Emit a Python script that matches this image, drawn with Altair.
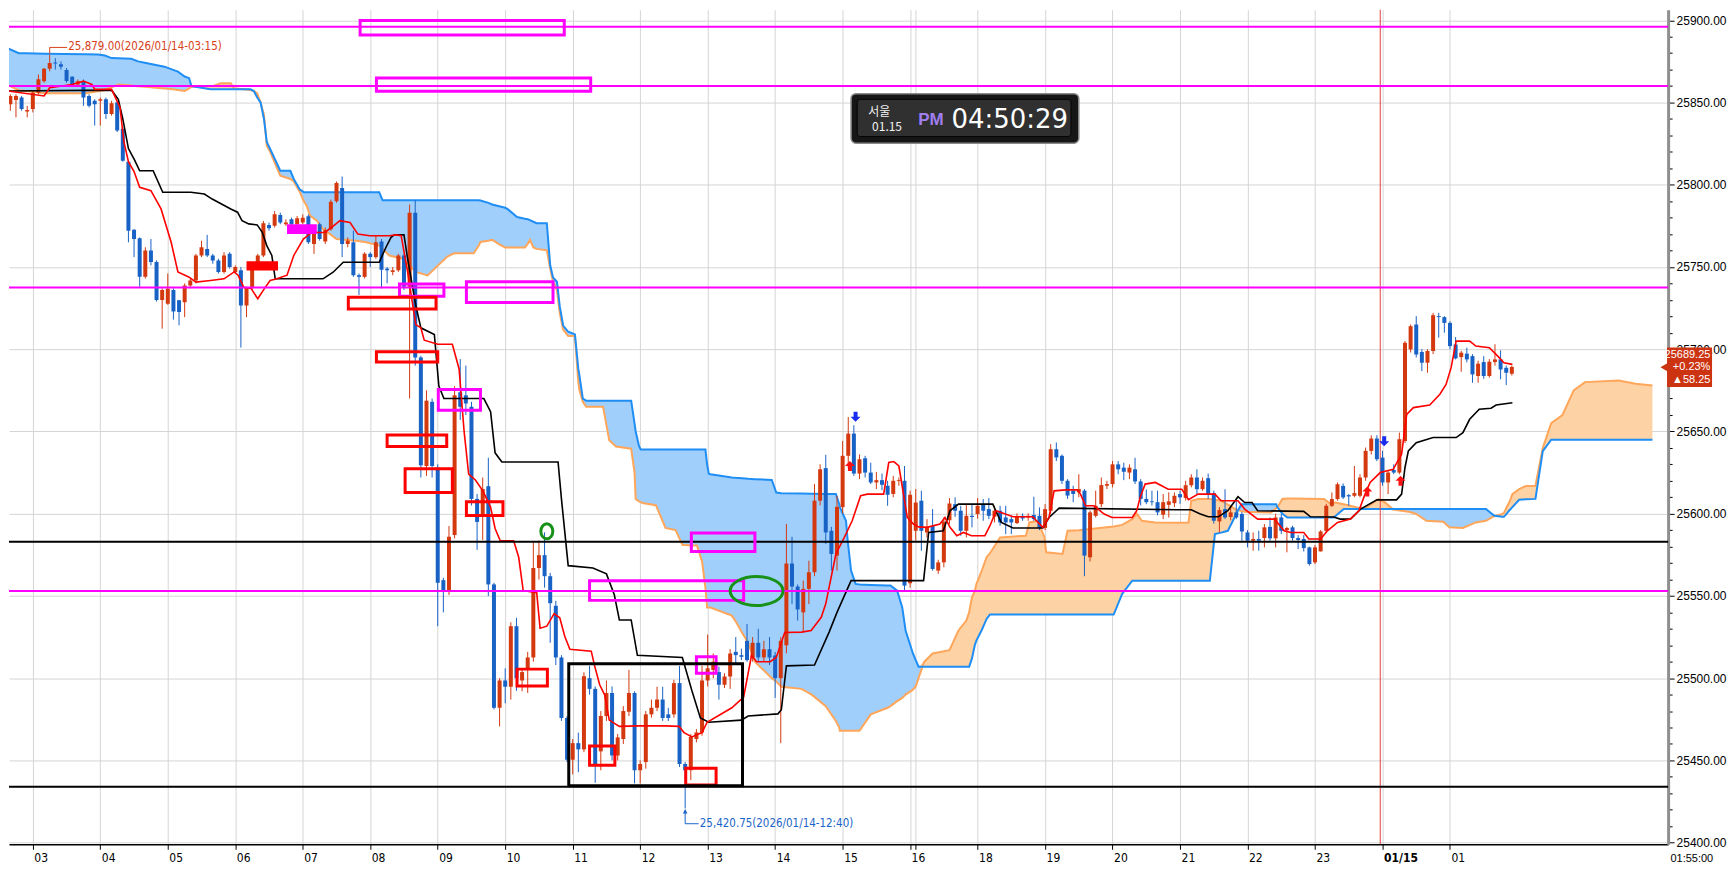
import altair as alt
import pandas as pd

# ---------------- data ----------------
first_bar = -4  # bar index 0 = 03:00, 5-minute bars

opens = [
    25849.0, 25851.6, 25853.0, 25844.5, 25846.0, 25856.0, 25863.0, 25870.6, 25874.3, 25873.3,
    25869.8, 25865.6, 25861, 25863, 25854, 25851, 25851, 25852, 25843, 25850,
    25834, 25814, 25772.7, 25767.5, 25744, 25760, 25753, 25730, 25727.6, 25736,
    25729.7, 25728.6, 25738.8, 25741.8, 25757, 25761, 25757, 25754, 25747, 25758,
    25747, 25748, 25726.6, 25737.7, 25752, 25757, 25775.6, 25775, 25781.6, 25776,
    25779, 25776, 25777, 25780.8, 25764, 25776, 25765.5, 25773, 25790, 25798,
    25764, 25765, 25745, 25744, 25758, 25756, 25765.5, 25749, 25747, 25748,
    25757, 25738, 25783, 25695, 25629, 25668, 25628, 25559.6, 25553, 25587,
    25673.8, 25672, 25665, 25609, 25599, 25616.7, 25557, 25482, 25498.6, 25494.8,
    25531.6, 25498.6, 25505, 25512.6, 25567, 25574.8, 25562, 25544, 25512.6, 25475.8,
    25450.4, 25460.5, 25456.7, 25500, 25493.5, 25455.5, 25477, 25491, 25453, 25463,
    25479.6, 25491, 25444, 25449, 25478, 25482, 25487, 25478, 25478, 25497,
    25447.8, 25444, 25463, 25467, 25498.6, 25505, 25503.7, 25496, 25501, 25516,
    25514, 25522.7, 25512.6, 25521.5, 25512.6, 25517.6, 25513.8, 25500, 25520, 25569.7,
    25555.7, 25540, 25554.3, 25564.4, 25607.9, 25627.7, 25589.6, 25574.5, 25604, 25635.2,
    25648.7, 25624.4, 25633.7, 25625, 25619, 25620.4, 25617, 25612, 25620, 25620,
    25557.7, 25589.6, 25607.9, 25588.6, 25592.7, 25565.4, 25570.4, 25596, 25605.8, 25601.8,
    25589.6, 25598.7, 25599.8, 25605.8, 25602.8, 25598.2, 25601.8, 25597.7, 25596.7, 25594.3,
    25598.7, 25597.7, 25599.2, 25598.7, 25591.3, 25601.8, 25639.2, 25635.2, 25620, 25614,
    25613, 25614, 25573.5, 25598.7, 25605.8, 25617, 25618, 25630, 25628, 25625,
    25627, 25619.6, 25609, 25607.5, 25607, 25599.4, 25605.4, 25606.4, 25611.9, 25609.5,
    25617.3, 25622, 25614.9, 25621.6, 25612.5, 25595.3, 25602.8, 25598, 25600.8, 25599.8,
    25588.6, 25583.6, 25584.6, 25585.2, 25592, 25585, 25597.7, 25590, 25591.7, 25585.2,
    25584.6, 25579.5, 25570.4, 25577.1, 25589.6, 25604.8, 25608.9, 25616.9, 25611.3, 25610.9,
    25610.9, 25622, 25638.2, 25645.7, 25634.1, 25619, 25626.6, 25625, 25644.2, 25699.9,
    25715, 25698.3, 25691.8, 25698.9, 25720.1, 25719.5, 25716, 25702.9, 25695.2, 25697.3,
    25695.8, 25683.7, 25692.2, 25683.7, 25692.2, 25693.8, 25688.7, 25685.1,
]
highs = [
    25855, 25855, 25854, 25848, 25857, 25867, 25871, 25879, 25877, 25875,
    25871, 25866, 25864, 25864, 25855, 25852, 25853, 25853, 25851, 25851,
    25835, 25815, 25773, 25768, 25762, 25767, 25754, 25737, 25746, 25737,
    25730, 25740, 25743, 25758, 25766, 25769.5, 25758, 25755, 25759, 25759,
    25751, 25750, 25738, 25753, 25758, 25778, 25777, 25784, 25783, 25779,
    25780, 25781, 25782, 25782, 25772, 25777, 25774, 25791, 25802, 25805,
    25768, 25772, 25746, 25759, 25759, 25769, 25767, 25750, 25750, 25758,
    25758, 25788, 25790.5, 25696, 25675, 25670, 25630, 25561, 25592.5, 25677.6,
    25694, 25690, 25668, 25612, 25622, 25634, 25558, 25500, 25506, 25534,
    25536.7, 25505, 25516, 25582.4, 25583.7, 25588.7, 25564, 25547, 25514, 25477,
    25463, 25466.9, 25503.6, 25507.5, 25495, 25480, 25498.6, 25495, 25466, 25483,
    25505, 25492, 25450, 25480, 25487, 25494.8, 25494.8, 25482, 25499, 25507.5,
    25449, 25466, 25469, 25507.5, 25526.5, 25515, 25507, 25503, 25517.6, 25525,
    25518, 25533, 25525, 25530, 25522.7, 25525, 25516, 25525, 25593.8, 25586,
    25557, 25559.3, 25571.4, 25618, 25630, 25635.8, 25592, 25610.9, 25644.2, 25658.8,
    25653.8, 25636, 25635.2, 25631, 25625.4, 25624.4, 25620, 25623, 25622, 25629,
    25614, 25615, 25614, 25596.7, 25602.8, 25572, 25597.7, 25609.5, 25609.9, 25604.8,
    25605.8, 25605.8, 25609.5, 25608.9, 25609.5, 25604.8, 25604.8, 25604.8, 25598.8, 25600.2,
    25600.2, 25600.2, 25610.3, 25603.8, 25605.8, 25642.3, 25643.3, 25636, 25621, 25617,
    25624, 25615, 25602, 25614, 25622, 25620, 25632.1, 25632, 25631, 25630,
    25634, 25621, 25614.7, 25614, 25614, 25612, 25613, 25612.9, 25614, 25620,
    25624, 25627, 25622, 25624.4, 25614, 25604, 25614.9, 25604.8, 25608.9, 25601,
    25590, 25588.6, 25589.6, 25593.7, 25597.7, 25600, 25599.8, 25592, 25592.7, 25587,
    25587, 25580, 25581, 25590, 25606, 25612.9, 25619, 25618.4, 25611.9, 25629,
    25624, 25640.2, 25647.7, 25647.7, 25638.2, 25626, 25630, 25649.3, 25705, 25715,
    25720.1, 25700, 25700, 25722.1, 25722.1, 25720.1, 25717, 25707.4, 25699, 25700.9,
    25697, 25693, 25695.8, 25694, 25703, 25699.3, 25690, 25690,
]
lows = [
    25845, 25841, 25845, 25841, 25844, 25855, 25862, 25869, 25870, 25870,
    25862, 25860, 25860, 25848, 25847, 25836, 25836, 25840, 25842, 25832,
    25814, 25765, 25756, 25738, 25743, 25751, 25729, 25712.5, 25727, 25718,
    25714.5, 25719.5, 25737, 25740, 25756, 25756, 25752, 25746, 25746, 25749,
    25746, 25701, 25719.5, 25736, 25751, 25756, 25772, 25774, 25776, 25775,
    25775, 25775, 25776, 25764, 25758, 25766, 25764, 25772, 25789, 25756,
    25762, 25744, 25733, 25743, 25750, 25755, 25737, 25740, 25745, 25747,
    25736, 25670, 25690, 25622, 25623, 25622, 25531.6, 25540, 25550.6, 25585,
    25657, 25660, 25605, 25578, 25584, 25550, 25481, 25470.7, 25484.7, 25487,
    25492.3, 25492, 25491, 25510, 25560, 25555, 25521.5, 25508, 25474, 25449,
    25441.5, 25442.8, 25455, 25490, 25436.4, 25444, 25474, 25450, 25450, 25460,
    25477, 25436, 25436, 25445, 25476, 25480, 25474, 25474, 25476, 25446,
    25420.75, 25438, 25461, 25465, 25495, 25500, 25487, 25494, 25493.5, 25509,
    25511, 25510, 25510, 25510, 25510, 25508, 25488, 25460.5, 25515, 25545,
    25535, 25528, 25545, 25562, 25605, 25581.6, 25565.4, 25565.4, 25600, 25628,
    25623, 25621, 25622, 25618, 25615, 25614.3, 25604.8, 25610, 25617, 25553.3,
    25555, 25583.6, 25577.5, 25585.6, 25565.4, 25563.4, 25567.4, 25593.7, 25598, 25586.6,
    25585.6, 25591.7, 25597, 25595.7, 25596.7, 25594.7, 25592.7, 25587.6, 25587.6, 25593.7,
    25595.7, 25595.7, 25595.7, 25590, 25590, 25600, 25632, 25618, 25609, 25607,
    25610, 25562, 25571, 25597.7, 25604, 25615, 25616, 25624, 25620.4, 25621,
    25618, 25605, 25605.8, 25605, 25599, 25596.7, 25597.7, 25604, 25606, 25608,
    25616, 25612, 25613.9, 25609, 25594, 25588.6, 25596.7, 25596, 25596.7, 25583.6,
    25579.5, 25577.5, 25577.5, 25579.5, 25583.6, 25579.5, 25587.6, 25576.5, 25583.6, 25578.5,
    25577, 25568.4, 25569.4, 25577, 25588.6, 25604, 25608, 25608.9, 25604.8, 25610,
    25609.9, 25620, 25636, 25632, 25617, 25611.9, 25624, 25624, 25643, 25698,
    25695, 25686.7, 25685.7, 25697, 25707, 25710, 25700, 25693.8, 25686.3, 25692,
    25679.6, 25679.6, 25682, 25682.7, 25690, 25681.7, 25678.2, 25684,
]
closes = [
    25854, 25854, 25846, 25845.5, 25856, 25864.2, 25870.6, 25874, 25873.7, 25871.8,
    25863.1, 25861.1, 25863, 25853, 25848, 25849, 25852, 25843, 25849.6, 25833,
    25814.6, 25772, 25767, 25744, 25760, 25753, 25730, 25736, 25736.7, 25723,
    25722.6, 25738.8, 25741.8, 25757, 25762, 25757, 25754, 25747, 25757, 25750,
    25750, 25726.6, 25737.7, 25752, 25757, 25776.6, 25773.5, 25782, 25777, 25777,
    25776, 25779.6, 25780, 25765, 25771, 25767, 25772.5, 25789.7, 25801, 25764,
    25766, 25745, 25744, 25758, 25756, 25765, 25748.3, 25748, 25748, 25757,
    25738, 25783, 25695, 25629.4, 25668.7, 25629, 25558, 25553, 25586, 25672,
    25665, 25667, 25609, 25595, 25615, 25557, 25482, 25498.6, 25494.8, 25531.6,
    25500, 25503.7, 25512.6, 25567, 25574.8, 25562, 25545.6, 25512.6, 25475.8, 25450.4,
    25460.5, 25456.7, 25501.2, 25493.5, 25447.8, 25477, 25491, 25453, 25464, 25480,
    25491, 25444, 25447.8, 25478, 25482, 25487, 25475.8, 25475.8, 25497, 25447.8,
    25444, 25464.3, 25467, 25498.6, 25506, 25510, 25496, 25501, 25515, 25514,
    25513, 25511, 25521.5, 25512.6, 25517.6, 25512.6, 25500, 25522.7, 25569.7, 25555.7,
    25541.8, 25554.3, 25564.4, 25607.9, 25627, 25588.6, 25575.5, 25604.2, 25635.2, 25648.7,
    25624.4, 25633.1, 25625, 25619, 25620.4, 25617.6, 25611.5, 25620, 25620.5, 25556.3,
    25611.5, 25606.8, 25589.6, 25592, 25566.4, 25570.4, 25595.1, 25606.2, 25601.8, 25589.6,
    25598.7, 25598, 25604.8, 25601.8, 25598.7, 25601.8, 25594.7, 25594.7, 25594.7, 25598.1,
    25597.1, 25598.7, 25596.7, 25591.3, 25602.8, 25639.2, 25634.2, 25620, 25611, 25612,
    25615, 25574.5, 25600.8, 25604.8, 25617.4, 25618, 25630, 25627, 25625.5, 25628,
    25619.6, 25609, 25607, 25607, 25600.8, 25607, 25607.5, 25610.9, 25609.9, 25617.3,
    25622, 25614.9, 25620, 25611.9, 25595.7, 25602.2, 25597.7, 25600.8, 25597.7, 25589.2,
    25583.6, 25584.6, 25583.6, 25591.7, 25585, 25597.7, 25589.6, 25591.3, 25585.2, 25584,
    25579.1, 25569.4, 25579.5, 25589.2, 25604.8, 25608.9, 25617.9, 25609.9, 25610.5, 25612.5,
    25622, 25638.2, 25645.7, 25633.1, 25619, 25625, 25625, 25645.3, 25703.9, 25714,
    25696.8, 25691.8, 25698.9, 25720.7, 25719.5, 25716, 25701.9, 25694.4, 25697.9, 25693.8,
    25684.7, 25691.2, 25683.7, 25692.4, 25693.8, 25687.7, 25685.7, 25689.25,
]

# conversion line (red) and base line (black): break points
tenkan_x = [
    -4.5, 2, 3, 7, 9, 10.5, 11, 14, 15.5, 16.2,
    17, 18, 19, 21, 22.8, 24.6, 25.8, 27.8, 29, 31.6,
    34, 35.8, 36.5, 37.5, 38.8, 40, 41.2, 42.2, 43.4, 45.2,
    46.4, 48.1, 49.6, 51.9, 53.1, 54.6, 56.4, 57.8, 59.9, 63.4,
    64.5, 65.5, 66.6, 68.1, 69, 69.6, 72, 74.6, 75.8, 76.7,
    77.5, 78.7, 80, 81.4, 82.2, 83.1, 85.5, 86.4, 87.2, 89.6,
    90.2, 91.4, 92.7, 93.7, 94.6, 95.5, 99.3, 99.9, 100.8, 101.7,
    102.5, 104.3, 107.5, 112.5, 114.9, 115.8, 117.2, 119, 119.9, 124.3,
    126.4, 127.8, 128.7, 131.1, 132.2, 133.7, 136.7, 138.4, 140.2, 141,
    142.8, 144.3, 145.7, 147.2, 148.4, 151.3, 152.2, 153.1, 154, 155.5,
    156.6, 157.5, 159, 161.3, 162.2, 163.1, 164.3, 165.5, 166.9, 169.3,
    170.2, 171.3, 174.3, 177.8, 179.6, 180.7, 181.6, 183.7, 185.7, 186.3,
    187.2, 188.7, 190.5, 191.9, 195.5, 196.3, 196.9, 197.8, 199.6, 201.9,
    204.3, 205.5, 207.2, 210.2, 211.3, 214.3, 215.5, 217.8, 220.8, 221.3,
    222.5, 223.7, 226, 226.9, 229, 230.2, 232, 234.3, 235.8, 236.9,
    237.8, 239.6, 241.9, 243.4, 244.3, 245.5, 248.4, 250.2, 251.3, 252.2,
    253.1, 255.5, 256.6, 259, 260.5, 261.6, 263.1,
]
tenkan_y = [
    25857, 25854, 25859, 25861, 25863, 25861, 25858, 25858, 25847, 25826,
    25814, 25808, 25798.4, 25796.4, 25785.3, 25765, 25747, 25743.8, 25740.8, 25741.8,
    25742.8, 25747, 25745, 25737.7, 25737, 25730.7, 25737, 25741.8, 25742.8, 25745,
    25757, 25767, 25771, 25771, 25774, 25778.2, 25777, 25770, 25769, 25769,
    25769.5, 25769, 25748, 25715, 25713, 25705.5, 25703, 25703, 25688, 25649.7,
    25624, 25620.5, 25614, 25604, 25591, 25583.7, 25583.5, 25573.5, 25553.2, 25552,
    25530.4, 25531.6, 25539.2, 25536.7, 25525.3, 25517.6, 25516.4, 25507.5, 25496, 25489.7,
    25474.5, 25470.7, 25471, 25471, 25470.7, 25466.9, 25464.3, 25466.9, 25473.2, 25482,
    25488.5, 25513.9, 25510, 25510, 25512.6, 25527.8, 25528, 25529, 25537, 25545.2,
    25575.5, 25585.6, 25595.7, 25610.9, 25611.9, 25611.9, 25631.1, 25631.7, 25629, 25597.7,
    25593.7, 25592, 25591.7, 25593.7, 25597.7, 25591.7, 25586.6, 25588.6, 25586.6, 25586.6,
    25592.7, 25601.8, 25598.1, 25598.1, 25591.7, 25597.7, 25613.9, 25614.5, 25614.5, 25611.9,
    25604.8, 25604.8, 25599.8, 25597.7, 25597.7, 25601.8, 25609.9, 25618, 25619, 25614.9,
    25614.9, 25608.5, 25611.9, 25611.9, 25607.9, 25607.9, 25602.8, 25596.7, 25596.7, 25594.7,
    25589.6, 25588.6, 25588.6, 25584.6, 25584.6, 25589.6, 25594.7, 25596.7, 25601.8, 25611.9,
    25619, 25625, 25627, 25636.2, 25660.4, 25664.5, 25666.1, 25672.6, 25678.6, 25688.8,
    25704.9, 25704.9, 25701.9, 25700.9, 25695.8, 25691.8, 25690.8,
]
kijun_x = [
    -4.5, 14, 15.2, 16, 17, 18.1, 19, 21.4, 23.1, 28.1,
    30.5, 31.9, 35.2, 36.4, 37.2, 38.4, 39.9, 40.8, 41.6, 42.5,
    43.1, 51.6, 53.4, 55.2, 61.6, 62.8, 63.7, 64.3, 66, 66.6,
    68.1, 69, 71.4, 72.2, 73.1, 80.2, 81.4, 82.2, 83.4, 93.4,
    94, 95.2, 99.6, 102, 103.4, 104.3, 106.4, 107.5, 115.5, 117.2,
    118.7, 120.2, 126, 127.2, 132.5, 133.1, 134, 139, 141.6, 143,
    145.5, 158.4, 159.3, 161.9, 163.1, 164.6, 170.7, 172.2, 174.3, 179.6,
    180.7, 182.5, 203.7, 206, 207.5, 209, 210.8, 212.5, 214.3, 215.5,
    216.8, 217.8, 226, 227.2, 231.3, 232.5, 234.3, 236.1, 239, 242.5,
    243.4, 244, 244.6, 246, 249, 253.1, 254.3, 255.5, 257.2, 259.3,
    260.2, 263.1,
]
kijun_y = [
    25857, 25857.5, 25852, 25840, 25822, 25815, 25808.5, 25808.5, 25795.4, 25795.4,
    25794.4, 25791.3, 25785.3, 25783.3, 25778.2, 25776.2, 25775.6, 25771.1, 25763, 25757,
    25742.8, 25742.8, 25746.8, 25752.9, 25752.9, 25762, 25768, 25769.5, 25769.5, 25756,
    25726.6, 25713, 25709, 25677.6, 25670, 25670, 25662, 25637, 25631.4, 25631.4,
    25609, 25568.4, 25567, 25563.4, 25550.7, 25535.4, 25535.4, 25513.9, 25512.6, 25492.3,
    25475.8, 25473.2, 25474.5, 25477, 25478.3, 25480.8, 25507.5, 25508, 25528, 25540,
    25559.3, 25559.3, 25588.6, 25589.6, 25601.8, 25605.8, 25605.8, 25594.7, 25591.3, 25591.3,
    25597.7, 25603.4, 25602.4, 25602.4, 25600, 25598.1, 25598.1, 25601.8, 25610.3, 25606.8,
    25606.8, 25601.8, 25601.4, 25598.1, 25598, 25596.7, 25596.7, 25602.8, 25608.4, 25608.4,
    25611.9, 25628.1, 25638.2, 25643.2, 25646.3, 25646.3, 25649.3, 25657.4, 25663.5, 25664.1,
    25666.1, 25667.5,
]

# leading spans (cloud): shared break points
cloud_x = [
    -4.5, -2.5, -1.3, 2.2, 9.3, 11.6, 12.8, 14, 15.2, 17.5,
    18.7, 19.9, 23.4, 24.6, 25.8, 27, 27.8, 28.2, 30.5, 31.6,
    32.2, 33.4, 35.2, 35.8, 38.7, 39.3, 39.9, 40.5, 41.1, 41.6,
    42.2, 44, 45.8, 46.4, 47.5, 47.8, 48.2, 48.7, 49.3, 50.5,
    51.6, 52.8, 54, 57.5, 59.3, 61.6, 62.2, 63.4, 65.8, 68.1,
    70.2, 73.7, 74.9, 78.4, 79.3, 79.6, 81, 81.7, 83.1, 84,
    84.5, 86.1, 87.5, 88, 88.4, 89, 89.6, 91.4, 92, 92.5,
    93.2, 93.7, 94.3, 95.2, 96.4, 97, 97.2, 97.8, 98.4, 101.4,
    102.5, 103.7, 106.4, 107, 107.2, 107.8, 108.1, 108.4, 110.8, 112.5,
    114.3, 115.5, 117, 118.1, 119, 119.6, 119.9, 120.2, 120.5, 124.3,
    124.9, 126.1, 127.2, 128.4, 131.4, 132.2, 133.1, 136.7, 138.5, 141,
    142.8, 143.4, 143.5, 144.6, 144.9, 145.5, 146.3, 147, 149, 152,
    152.5, 153.7, 154.6, 155.2, 156.5, 157, 157.5, 158.5, 160, 163,
    164.6, 166, 166.5, 167, 167.5, 167.8, 168.7, 169.6, 170.2, 172,
    176.6, 177.2, 178.7, 179.9, 180.2, 183.1, 184, 186, 192.2, 193.7,
    195.5, 196.3, 197.2, 199.6, 203.7, 205.5, 206, 207.2, 209.3, 210.2,
    211.3, 212.5, 214, 214.3, 214.9, 215.5, 220.2, 221.1, 221.3, 222.2,
    223.1, 223.7, 229.6, 230.8, 231.3, 231.6, 233.1, 235.5, 237, 238.4,
    239.3, 240.5, 241.9, 244.9, 246, 247.8, 250.8, 251.9, 254.3, 256.6,
    258.4, 259.6, 259.9, 261.3, 261.6, 262.2, 262.5, 263.1, 264.3, 265.5,
    267.2, 268.5, 270, 272, 274, 276, 282, 285, 288,
]
span_blue = [
    25883, 25880, 25879.9, 25879.7, 25879.3, 25879.2, 25878.6, 25877, 25876.9, 25876.6,
    25875, 25874.2, 25871.8, 25870.3, 25868.8, 25865.8, 25864.8, 25860, 25858.7, 25858,
    25858, 25858, 25858, 25858, 25858, 25857, 25853, 25850, 25840, 25826,
    25821.7, 25808.5, 25808.5, 25803.5, 25797, 25796.4, 25795.4, 25795.4, 25795.4, 25795.4,
    25795.4, 25795.4, 25795.4, 25795.4, 25795.4, 25795.4, 25790.5, 25790.5, 25790.5, 25790.5,
    25790.5, 25790.5, 25790.5, 25790.5, 25790.6, 25790.4, 25789, 25788, 25786.8, 25786,
    25785, 25780.4, 25779.3, 25779, 25778.5, 25777.5, 25776.6, 25776.6, 25751, 25743.6,
    25741, 25726, 25714.4, 25710.6, 25709, 25688, 25684, 25670, 25668.7, 25668.7,
    25668.7, 25668.7, 25668.7, 25654.8, 25650, 25641, 25639, 25639, 25639, 25639,
    25639, 25639, 25639, 25639, 25639, 25639, 25630, 25624.3, 25624, 25622,
    25621.8, 25621.5, 25621.2, 25621, 25620.5, 25612.9, 25612.5, 25612.3, 25612.2, 25612,
    25612, 25605.8, 25604, 25595.7, 25583.6, 25565.4, 25557.3, 25557, 25556.7, 25556.4,
    25556.3, 25553.2, 25543, 25529, 25515, 25511, 25507, 25507, 25507, 25507,
    25507, 25507, 25507, 25512, 25520, 25523, 25529, 25536, 25538.7, 25538.7,
    25538.7, 25538.7, 25538.7, 25538.7, 25538.7, 25538.7, 25538.7, 25538.7, 25538.7, 25551.2,
    25559.3, 25559.3, 25559.3, 25559.3, 25559.3, 25559.3, 25559.3, 25559.3, 25559.3, 25587.6,
    25588.5, 25589.6, 25599.8, 25602, 25605.8, 25605.8, 25605.8, 25605.8, 25604, 25600,
    25597.7, 25597.7, 25597.7, 25597.7, 25597.7, 25598.5, 25602.8, 25602.8, 25602.8, 25602.8,
    25602.8, 25602.8, 25602.8, 25602.8, 25602.8, 25602.8, 25602.8, 25602.8, 25602.8, 25602.8,
    25602.8, 25599.5, 25598.7, 25598.2, 25598.1, 25600.5, 25601.8, 25604, 25608.5, 25608.8,
    25609, 25638, 25645, 25645, 25645, 25645, 25645, 25645, 25645,
]
span_orange = [
    25860.7, 25857.5, 25857, 25855.6, 25855.6, 25856.9, 25857.6, 25859.3, 25861, 25860.3,
    25859.9, 25859.6, 25858.5, 25858.2, 25857.6, 25857, 25858.6, 25859.6, 25859.9, 25860,
    25860.2, 25861.7, 25861.7, 25858.6, 25857.6, 25857, 25855.6, 25850, 25842.5, 25823.7,
    25820, 25805.5, 25803.5, 25802, 25795.4, 25793, 25790, 25787.3, 25781.2, 25778.2,
    25773.1, 25770.1, 25767, 25766, 25765, 25763, 25761, 25757, 25755, 25747,
    25744.9, 25756.3, 25758.3, 25758.3, 25763, 25765.2, 25766, 25766.5, 25763.5, 25761.9,
    25761.9, 25761.9, 25761.9, 25764, 25766.5, 25761.9, 25761, 25760.1, 25749, 25741,
    25736, 25722, 25712, 25708, 25708, 25680, 25675, 25668, 25665, 25665,
    25644.6, 25640.8, 25639.5, 25625, 25609, 25607.5, 25607, 25606.5, 25605.2, 25591.3,
    25590, 25581.1, 25580.6, 25580.6, 25571, 25555, 25543, 25543, 25543, 25538,
    25535, 25527.8, 25521.5, 25510, 25500, 25498, 25494.8, 25493.5, 25490, 25483,
    25474, 25470, 25468, 25468, 25468, 25468, 25468, 25468, 25478, 25482,
    25483, 25486, 25488, 25490, 25493, 25495, 25500, 25510, 25515, 25517,
    25529, 25535, 25540, 25549.2, 25553, 25557.3, 25565, 25573.5, 25576, 25585.6,
    25586.6, 25594.7, 25595.7, 25585.6, 25576.5, 25575.5, 25589.6, 25590, 25592.2, 25593.2,
    25596.7, 25600.2, 25595.7, 25594.7, 25594.5, 25594.7, 25607.9, 25608.9, 25608.9, 25608.5,
    25607.9, 25605.5, 25602.5, 25602.2, 25601.6, 25601.2, 25600.8, 25603.4, 25603.8, 25608.9,
    25609.2, 25609.3, 25608.9, 25605.8, 25606.5, 25606.8, 25605.8, 25603.8, 25603.5, 25606.8,
    25608.9, 25606.8, 25602.5, 25601, 25599.8, 25595.7, 25595.1, 25591.7, 25591.3, 25594.7,
    25595.7, 25598.1, 25598.5, 25599.8, 25600.5, 25604.8, 25606.5, 25611.9, 25614.9, 25616.9,
    25617, 25640, 25655, 25660, 25675, 25680, 25681, 25679, 25678,
]

# axis ticks / labels
hour_ticks = [0, 12, 24, 36, 48, 60, 72, 84, 96, 108, 120, 132, 144, 156, 157,
              168, 180, 192, 204, 216, 228, 240, 252]
hour_labels = ["03", "04", "05", "06", "07", "08", "09", "10", "11", "12", "13", "14",
               "15", "16", "", "18", "19", "20", "21", "22", "23", "01/15", "01"]
y_ticks = list(range(25400, 25910, 10))

# drawn horizontal levels
magenta_levels = [25896, 25860, 25737.5, 25553]
black_levels = [25583, 25434]

# hand-drawn boxes (bar index / price)
mag_x1 = [58.2, 61.1, 65.2, 77.1, 72.1, 117.1, 99.0, 118.0]
mag_x2 = [94.5, 99.2, 73.1, 92.5, 79.6, 128.4, 126.4, 121.5]
mag_y1 = [25899.8, 25864.9, 25739.7, 25741.0, 25675.5, 25588.2, 25559.3, 25513.0]
mag_y2 = [25891.1, 25856.8, 25732.2, 25728.4, 25662.9, 25577.0, 25547.3, 25503.0]
red_x1 = [56.1, 61.1, 63.0, 66.2, 77.1, 86.1, 99.0, 116.1]
red_x2 = [71.7, 72.0, 73.6, 74.6, 83.6, 91.5, 103.5, 121.5]
red_y1 = [25731.6, 25698.5, 25647.9, 25627.3, 25607.3, 25505.5, 25458.7, 25445.3]
red_y2 = [25724.5, 25692.2, 25640.8, 25612.9, 25598.9, 25495.3, 25447.1, 25435.1]
solid_x1 = [45.2, 38.0]
solid_x2 = [50.5, 43.6]
solid_y1 = [25776.0, 25753.5]
solid_y2 = [25770.0, 25747.8]
solid_c = ["#ff00ff", "#ff0000"]
box_x1, box_x2, box_y1, box_y2 = [95.3], [126.2], [25508.7], [25434.6]

# signal arrows
down_arrow_x = [146.3, 240.3]
down_arrow_y = [25659.0, 25644.0]
up_arrow_x = [145.3, 237.3, 243.2]
up_arrow_y = [25629.0, 25613.5, 25620.0]

# ---------------- styling ----------------
RED = "#d4380f"
BLUE = "#1862c6"
LABEL_FONT = "Liberation Sans Narrow, DejaVu Sans Condensed, Liberation Sans, sans-serif"

xs = alt.Scale(domain=[-3.35, 289.9], nice=False, zero=False)
ys = alt.Scale(domain=[25399, 25906.4], nice=False, zero=False)

label_expr = ("[" + ",".join("'%s'" % l for l in hour_labels) + "][indexof(["
              + ",".join(str(t) for t in hour_ticks) + "], datum.value)]")

x_axis = alt.Axis(
    values=hour_ticks, labelExpr=label_expr, grid=True, gridColor="#d5d5d5", gridWidth=1,
    domainColor="#000000", domainWidth=1.5, tickColor="#000000", tickSize=5,
    labelAlign="left", labelOffset=1, labelPadding=3, labelFont=LABEL_FONT,
    labelFontSize=12, labelColor="#000000", labelOverlap=False, zindex=0,
    labelFontWeight={"condition": {"test": "datum.value === 240", "value": "bold"}, "value": "normal"},
)
y_axis = alt.Axis(
    orient="right", values=y_ticks,
    labelExpr="datum.value % 50 === 0 ? format(datum.value, '.2f') : ''",
    grid=True, gridColor="#d5d5d5", gridWidth=1,
    gridOpacity={"condition": {"test": "datum.value % 50 === 0", "value": 1}, "value": 0},
    tickSize={"condition": {"test": "datum.value % 50 === 0", "value": 6}, "value": 4},
    tickColor="#000000", domainColor="#8f8f8f", domainWidth=3,
    labelFont="Liberation Sans, sans-serif", labelFontSize=12, labelColor="#000000",
    labelPadding=2, labelOverlap=False, zindex=0,
)


def X(f):
    return alt.X(f + ":Q", scale=xs, axis=x_axis, title=None)


def Y(f):
    return alt.Y(f + ":Q", scale=ys, axis=y_axis, title=None)


# ---------------- tables ----------------
n = min(len(opens), len(highs), len(lows), len(closes))
bars = pd.DataFrame({
    "x": list(range(first_bar, first_bar + n)),
    "open": opens[:n], "high": highs[:n], "low": lows[:n], "close": closes[:n],
})
bars["dir"] = ["up" if c >= o else "down" for o, c in zip(bars["open"], bars["close"])]

nc = min(len(cloud_x), len(span_blue), len(span_orange))
cloud = pd.DataFrame({"x": cloud_x[:nc], "b": span_blue[:nc], "o": span_orange[:nc]})
nt = min(len(tenkan_x), len(tenkan_y))
tenkan = pd.DataFrame({"x": tenkan_x[:nt], "y": tenkan_y[:nt]})
nk = min(len(kijun_x), len(kijun_y))
kijun = pd.DataFrame({"x": kijun_x[:nk], "y": kijun_y[:nk]})

dir_color = alt.Color("dir:N", scale=alt.Scale(domain=["up", "down"], range=[RED, BLUE]), legend=None)

layers = []

# cloud fills
layers.append(
    alt.Chart(cloud).transform_calculate(top="max(datum.b, datum.o)")
    .mark_area(color="#a0cffb", orient="vertical", clip=True)
    .encode(x=X("x"), y=Y("o"), y2=alt.Y2("top"))
)
layers.append(
    alt.Chart(cloud).transform_calculate(top="max(datum.b, datum.o)")
    .mark_area(color="#fdd2a5", orient="vertical", clip=True)
    .encode(x=X("x"), y=Y("b"), y2=alt.Y2("top"))
)
layers.append(alt.Chart(cloud).mark_line(color="#ffa65a", strokeWidth=2, clip=True).encode(x=X("x"), y=Y("o")))
layers.append(alt.Chart(cloud).mark_line(color="#1e8ef5", strokeWidth=2, clip=True).encode(x=X("x"), y=Y("b")))

# date separator
layers.append(alt.Chart(pd.DataFrame({"x": [239.6]})).mark_rule(color="#e2403f", strokeWidth=1).encode(x=X("x")))

# candles
layers.append(alt.Chart(bars).mark_rule(strokeWidth=1, clip=True).encode(x=X("x"), y=Y("low"), y2=alt.Y2("high"), color=dir_color))
layers.append(alt.Chart(bars).mark_bar(size=4, clip=True).encode(x=X("x"), y=Y("open"), y2=alt.Y2("close"), color=dir_color))

# tenkan / kijun
layers.append(alt.Chart(kijun).mark_line(color="#000000", strokeWidth=1.6, clip=True).encode(x=X("x"), y=Y("y")))
layers.append(alt.Chart(tenkan).mark_line(color="#ff0000", strokeWidth=1.6, clip=True).encode(x=X("x"), y=Y("y")))

# horizontal levels
layers.append(alt.Chart(pd.DataFrame({"y": magenta_levels})).mark_rule(color="#ff00ff", strokeWidth=2).encode(y=Y("y")))
layers.append(alt.Chart(pd.DataFrame({"y": black_levels})).mark_rule(color="#000000", strokeWidth=2).encode(y=Y("y")))

# boxes
mag = pd.DataFrame({"x": mag_x1, "x2": mag_x2, "y": mag_y1, "y2": mag_y2})
red = pd.DataFrame({"x": red_x1, "x2": red_x2, "y": red_y1, "y2": red_y2})
solid = pd.DataFrame({"x": solid_x1, "x2": solid_x2, "y": solid_y1, "y2": solid_y2, "c": solid_c})
box = pd.DataFrame({"x": box_x1, "x2": box_x2, "y": box_y1, "y2": box_y2})
layers.append(alt.Chart(mag).mark_rect(fillOpacity=0, stroke="#ff00ff", strokeWidth=3, clip=True)
              .encode(x=X("x"), x2=alt.X2("x2"), y=Y("y"), y2=alt.Y2("y2")))
layers.append(alt.Chart(red).mark_rect(fillOpacity=0, stroke="#ff0000", strokeWidth=3, clip=True)
              .encode(x=X("x"), x2=alt.X2("x2"), y=Y("y"), y2=alt.Y2("y2")))
layers.append(alt.Chart(solid).mark_rect(clip=True)
              .encode(x=X("x"), x2=alt.X2("x2"), y=Y("y"), y2=alt.Y2("y2"), color=alt.Color("c:N", scale=None)))
layers.append(alt.Chart(box).mark_rect(fillOpacity=0, stroke="#000000", strokeWidth=3, clip=True)
              .encode(x=X("x"), x2=alt.X2("x2"), y=Y("y"), y2=alt.Y2("y2")))

# green ellipses
ELL_WIDE = "M-1,0 A1,0.55 0 1,1 1,0 A1,0.55 0 1,1 -1,0 Z"
ELL_TALL = "M-1,0 A1,1.25 0 1,1 1,0 A1,1.25 0 1,1 -1,0 Z"
layers.append(alt.Chart(pd.DataFrame({"x": [128.7], "y": [25553.0]}))
              .mark_point(shape=ELL_WIDE, size=2809, filled=False, stroke="#179117", strokeWidth=3, opacity=1)
              .encode(x=X("x"), y=Y("y")))
layers.append(alt.Chart(pd.DataFrame({"x": [91.4], "y": [25589.3]}))
              .mark_point(shape=ELL_TALL, size=144, filled=False, stroke="#179117", strokeWidth=3, opacity=1)
              .encode(x=X("x"), y=Y("y")))

# signal arrows
DOWN = "M-0.4,-1 L0.4,-1 L0.4,0 L1,0 L0,1 L-1,0 L-0.4,0 Z"
UP = "M-0.4,1 L0.4,1 L0.4,0 L1,0 L0,-1 L-1,0 L-0.4,0 Z"
layers.append(alt.Chart(pd.DataFrame({"x": down_arrow_x, "y": down_arrow_y}))
              .mark_point(shape=DOWN, size=100, filled=True, color="#1a2cf0", opacity=1)
              .encode(x=X("x"), y=Y("y")))
layers.append(alt.Chart(pd.DataFrame({"x": up_arrow_x, "y": up_arrow_y}))
              .mark_point(shape=UP, size=100, filled=True, color="#ff1010", opacity=1)
              .encode(x=X("x"), y=Y("y")))

# high / low annotations
top_path = pd.DataFrame({"x": [3.0, 3.0, 6.1], "y": [25879.5, 25883.5, 25883.5], "o": [0, 1, 2]})
bot_path = pd.DataFrame({"x": [116.0, 116.0, 118.4], "y": [25420.0, 25411.5, 25411.5], "o": [0, 1, 2]})
layers.append(alt.Chart(top_path).mark_line(color="#d8401a", strokeWidth=1)
              .encode(x=X("x"), y=Y("y"), order="o:Q"))
layers.append(alt.Chart(bot_path).mark_line(color="#1a64c8", strokeWidth=1)
              .encode(x=X("x"), y=Y("y"), order="o:Q"))
layers.append(alt.Chart(pd.DataFrame({"x": [116.0], "y": [25419.0]}))
              .mark_point(shape="triangle-up", size=22, filled=True, color="#1a64c8", opacity=1)
              .encode(x=X("x"), y=Y("y")))
layers.append(alt.Chart(pd.DataFrame({"x": [6.3], "y": [25883.5], "t": ["25,879.00(2026/01/14-03:15)"]}))
              .mark_text(align="left", baseline="middle", color="#d8401a", fontSize=11.5, font=LABEL_FONT)
              .encode(x=X("x"), y=Y("y"), text="t:N"))
layers.append(alt.Chart(pd.DataFrame({"x": [118.6], "y": [25411.5], "t": ["25,420.75(2026/01/14-12:40)"]}))
              .mark_text(align="left", baseline="middle", color="#1a64c8", fontSize=11.5, font=LABEL_FONT)
              .encode(x=X("x"), y=Y("y"), text="t:N"))

# clock widget
layers.append(alt.Chart(pd.DataFrame({"x": [145.5], "x2": [186.0], "y": [25855.4], "y2": [25825.3]}))
              .mark_rect(fill="#161616", stroke="#8a8a8a", strokeWidth=1.5, cornerRadius=5)
              .encode(x=X("x"), x2=alt.X2("x2"), y=Y("y"), y2=alt.Y2("y2")))
layers.append(alt.Chart(pd.DataFrame({"x": [146.6], "x2": [184.6], "y": [25851.9], "y2": [25829.3]}))
              .mark_rect(fill="#303030", stroke="#050505", strokeWidth=1, cornerRadius=3)
              .encode(x=X("x"), x2=alt.X2("x2"), y=Y("y"), y2=alt.Y2("y2")))
layers.append(alt.Chart(pd.DataFrame({"x": [150.5, 151.9], "y": [25844.5, 25835.0], "t": ["서울", "01.15"]}))
              .mark_text(align="center", baseline="middle", color="#f2f2f2", fontSize=12,
                         font="Noto Sans CJK KR, Noto Sans, sans-serif")
              .encode(x=X("x"), y=Y("y"), text="t:N"))
layers.append(alt.Chart(pd.DataFrame({"x": [159.7], "y": [25839.4], "t": ["PM"]}))
              .mark_text(align="center", baseline="middle", color="#a07ef0", fontSize=17, fontWeight="bold",
                         font="Liberation Sans, sans-serif")
              .encode(x=X("x"), y=Y("y"), text="t:N"))
layers.append(alt.Chart(pd.DataFrame({"x": [173.7], "y": [25839.4], "t": ["04:50:29"]}))
              .mark_text(align="center", baseline="middle", color="#ffffff", fontSize=26,
                         font="DejaVu Sans, sans-serif")
              .encode(x=X("x"), y=Y("y"), text="t:N"))

# current price tag on the price axis
layers.append(alt.Chart(pd.DataFrame({"x": [290.6], "x2": [298.6], "y": [25701.0], "y2": [25677.0]}))
              .mark_rect(fill="#cc3311")
              .encode(x=X("x"), x2=alt.X2("x2"), y=Y("y"), y2=alt.Y2("y2")))
layers.append(alt.Chart(pd.DataFrame({"x": [290.3], "y": [25689.0]}))
              .mark_point(shape="triangle-left", size=130, filled=True, color="#cc3311", opacity=1)
              .encode(x=X("x"), y=Y("y")))
layers.append(alt.Chart(pd.DataFrame({"x": [298.3, 298.3, 298.3], "y": [25696.6, 25689.0, 25681.4],
                                      "t": ["25689.25", "+0.23%", "▲58.25"]}))
              .mark_text(align="right", baseline="middle", color="#ffffff", fontSize=11,
                         font="Liberation Sans, sans-serif")
              .encode(x=X("x"), y=Y("y"), text="t:N"))

# current bar time under the price axis
layers.append(alt.Chart(pd.DataFrame({"x": [295.0], "y": [25390.0], "t": ["01:55:00"]}))
              .mark_text(align="center", baseline="middle", color="#000000", fontSize=11,
                         font="Liberation Sans, sans-serif")
              .encode(x=X("x"), y=Y("y"), text="t:N"))

chart = (
    alt.layer(*layers)
    .properties(width=1662, height=836, padding={"left": 0, "top": 0, "right": 0, "bottom": 0})
    .configure(background="#ffffff")
    .configure_view(stroke=None)
)

chart.save("out.html", embed_options={"renderer": "svg", "actions": False})
